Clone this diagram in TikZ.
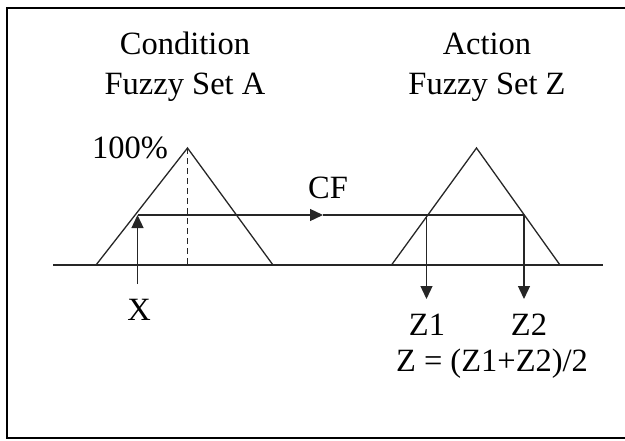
\documentclass[tikz,border=0pt]{standalone}
\usepackage{fontspec}
\setmainfont{Liberation Serif}
\usetikzlibrary{arrows.meta}
\begin{document}
\begin{tikzpicture}[x=1pt,y=-1pt,
  lbl/.style={font=\fontsize{32.5}{40}\selectfont, inner sep=0pt, align=center},
  ln/.style={line width=1.3pt, draw=black!85},
  arr/.style={ln, -{Triangle[length=13pt,width=12pt]}}]
\useasboundingbox (0,0) rectangle (625,440);
\draw[line width=2pt] (7,8) rectangle (640,438);
% baseline
\coordinate (b0) at (53,265);
\coordinate (b1) at (603,265);
\draw[ln] (b0) -- (b1);
% left triangle
\coordinate (la) at (96,265);
\coordinate (lt) at (187.5,148);
\coordinate (lb) at (273,265);
\draw[ln] (la) -- (lt) -- (lb);
\coordinate (lm) at (187.5,265);
\draw[ln, dashed, dash pattern=on 6pt off 4pt] (lt) -- (lm);
% right triangle
\coordinate (ra) at (391.5,265);
\coordinate (rt) at (476.5,148);
\coordinate (rb) at (560,265);
\draw[ln] (ra) -- (rt) -- (rb);
% horizontal cut line
\coordinate (h0) at (137.5,215);
\coordinate (cfa) at (323,215);
\coordinate (h1) at (426.5,215);
\coordinate (h2) at (524,215);
\draw[arr] (h0) -- (cfa);
\draw[ln] (cfa) -- (h2);
% arrows
\coordinate (xb) at (137.5,284);
\draw[arr] (xb) -- (h0);
\coordinate (z1b) at (426.5,299);
\coordinate (z2b) at (524,299);
\draw[arr] (h1) -- (z1b);
\draw[arr] (h2) -- (z2b);
% labels
\node[lbl] (cond) at (185,67) {Condition\\Fuzzy Set A};
\node[lbl] (act) at (487,67) {Action\\Fuzzy Set Z};
\node[lbl] (pct) at (130,148) {100\%};
\node[lbl] (cf) at (328,188) {CF};
\node[lbl] (xl) at (139,310) {X};
\node[lbl] (z1) at (427,325) {Z1};
\node[lbl] (z2) at (529,325) {Z2};
\node[lbl] (zf) at (492,364) {Z = (Z1+Z2)/2};
\end{tikzpicture}
\end{document}
